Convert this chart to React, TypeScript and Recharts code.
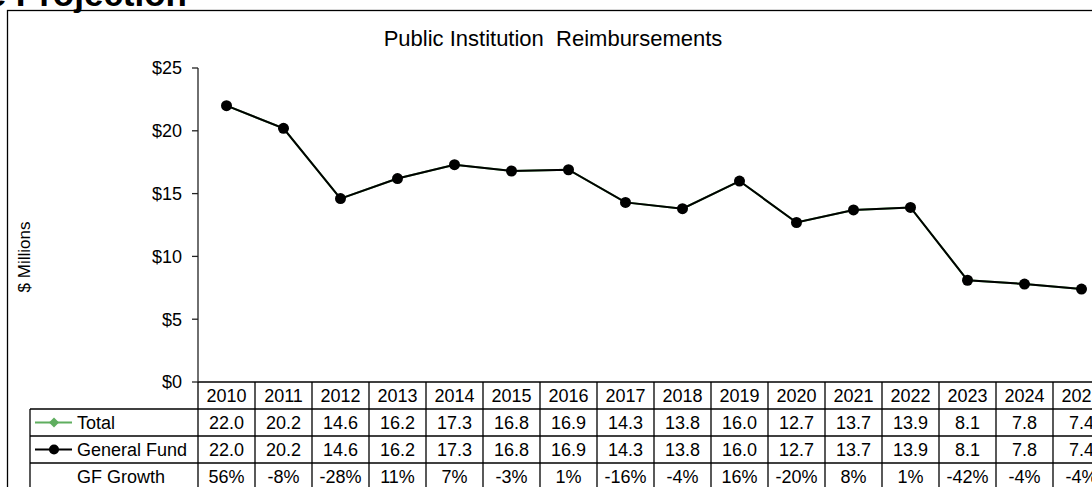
import React from 'react';
import { LineChart, Line, XAxis, YAxis } from 'recharts';

const years = ['2010', '2011', '2012', '2013', '2014', '2015', '2016', '2017', '2018', '2019', '2020', '2021', '2022', '2023', '2024', '2025'];
const totalValues = [22.0, 20.2, 14.6, 16.2, 17.3, 16.8, 16.9, 14.3, 13.8, 16.0, 12.7, 13.7, 13.9, 8.1, 7.8, 7.4];
const generalFundValues = [22.0, 20.2, 14.6, 16.2, 17.3, 16.8, 16.9, 14.3, 13.8, 16.0, 12.7, 13.7, 13.9, 8.1, 7.8, 7.4];
const gfGrowth = ['56%', '-8%', '-28%', '11%', '7%', '-3%', '1%', '-16%', '-4%', '16%', '-20%', '8%', '1%', '-42%', '-4%', '-4%'];
const yTicks = [0, 5, 10, 15, 20, 25];
const rowLabels = ['Total', 'General Fund', 'GF Growth'];

const data = years.map((year, i) => ({
  year,
  total: totalValues[i],
  generalFund: generalFundValues[i],
}));

const FONT = '"Liberation Sans", Arial, sans-serif';
const COL_W = 57;
const ROW_H = 27;
const GREEN = '#5fae5f';

// each x-axis tick draws one column of the data table under the plot
function TableColumn(props: any) {
  const { x, y, payload } = props;
  const i = payload.index;
  const left = x - COL_W / 2;
  const cells = [years[i], totalValues[i].toFixed(1), generalFundValues[i].toFixed(1), gfGrowth[i]];
  return (
    <g>
      <line x1={left} x2={left} y1={y} y2={y + ROW_H * 4} stroke="#000" strokeWidth={1.3} />
      {i === years.length - 1 && (
        <line x1={left + COL_W} x2={left + COL_W} y1={y} y2={y + ROW_H * 4} stroke="#000" strokeWidth={1.3} />
      )}
      {[1, 2, 3].map((r) => (
        <line key={r} x1={left} x2={left + COL_W} y1={y + ROW_H * r} y2={y + ROW_H * r} stroke="#000" strokeWidth={1.3} />
      ))}
      {cells.map((c, r) => (
        <text
          key={r}
          x={x}
          y={y + ROW_H * r + ROW_H / 2 + 6}
          textAnchor="middle"
          fontSize={18}
          fontFamily={FONT}
          fill="#000"
        >
          {c}
        </text>
      ))}
    </g>
  );
}

function DiamondDot(props: any) {
  const { cx, cy } = props;
  const s = 5;
  return <polygon points={`${cx},${cy - s} ${cx + s},${cy} ${cx},${cy + s} ${cx - s},${cy}`} fill={GREEN} />;
}

export default function App() {
  return (
    <div style={{ position: 'absolute', left: 0, top: 0, width: 1092, height: 487, overflow: 'hidden', background: '#fff' }}>
      <svg width={1092} height={487} style={{ position: 'absolute', left: 0, top: 0 }}>
        <text x={187} y={6} textAnchor="end" fontSize={35} fontWeight="bold" fontFamily={FONT} fill="#000">
          Revenue Projection
        </text>
        <rect x={7.5} y={10.5} width={1200} height={600} fill="none" stroke="#000" strokeWidth={1.3} />
        <text x={553} y={46} textAnchor="middle" fontSize={22} fontFamily={FONT} fill="#000" xmlSpace="preserve">
          Public Institution  Reimbursements
        </text>
        <text
          x={0}
          y={0}
          transform="translate(30,257) rotate(-90)"
          textAnchor="middle"
          fontSize={17}
          fontFamily={FONT}
          fill="#000"
        >
          $ Millions
        </text>
        {/* row label column */}
        <line x1={30} x2={30} y1={409} y2={500} stroke="#000" strokeWidth={1.3} />
        {[409, 436, 463].map((yy) => (
          <line key={yy} x1={30} x2={198} y1={yy} y2={yy} stroke="#000" strokeWidth={1.3} />
        ))}
        <line x1={35} x2={72} y1={422.5} y2={422.5} stroke={GREEN} strokeWidth={2} />
        <polygon points="54,417.5 59,422.5 54,427.5 49,422.5" fill={GREEN} />
        <line x1={35} x2={72} y1={449.5} y2={449.5} stroke="#000" strokeWidth={2} />
        <circle cx={54} cy={449.5} r={5} fill="#000" />
        {rowLabels.map((l, r) => (
          <text key={l} x={77} y={422.5 + r * ROW_H + 6} fontSize={18} fontFamily={FONT} fill="#000">
            {l}
          </text>
        ))}
      </svg>
      <div style={{ position: 'absolute', left: 0, top: 0 }}>
        <LineChart width={1120} height={487} data={data} margin={{ top: 68, right: 10, bottom: 0, left: 0 }}>
          <XAxis
            dataKey="year"
            interval={0}
            height={105}
            padding={{ left: COL_W / 2, right: COL_W / 2 }}
            tickLine={false}
            tickSize={0}
            tickMargin={0}
            axisLine={{ stroke: '#000', strokeWidth: 1.3 }}
            tick={<TableColumn />}
          />
          <YAxis
            width={198}
            domain={[0, 25]}
            ticks={yTicks}
            interval={0}
            tickSize={6}
            tickMargin={10}
            tickLine={{ stroke: '#222', strokeWidth: 1.3 }}
            axisLine={{ stroke: '#222', strokeWidth: 1.3 }}
            tickFormatter={(v: number) => `$${v}`}
            tick={{ fontSize: 18, fontFamily: FONT, fill: '#000' }}
          />
          <Line
            dataKey="total"
            stroke={GREEN}
            strokeWidth={2}
            dot={<DiamondDot />}
            isAnimationActive={false}
          />
          <Line
            dataKey="generalFund"
            stroke="#000"
            strokeWidth={2}
            dot={{ r: 5.5, fill: '#000', stroke: '#000', strokeWidth: 0 }}
            isAnimationActive={false}
          />
        </LineChart>
      </div>
    </div>
  );
}
